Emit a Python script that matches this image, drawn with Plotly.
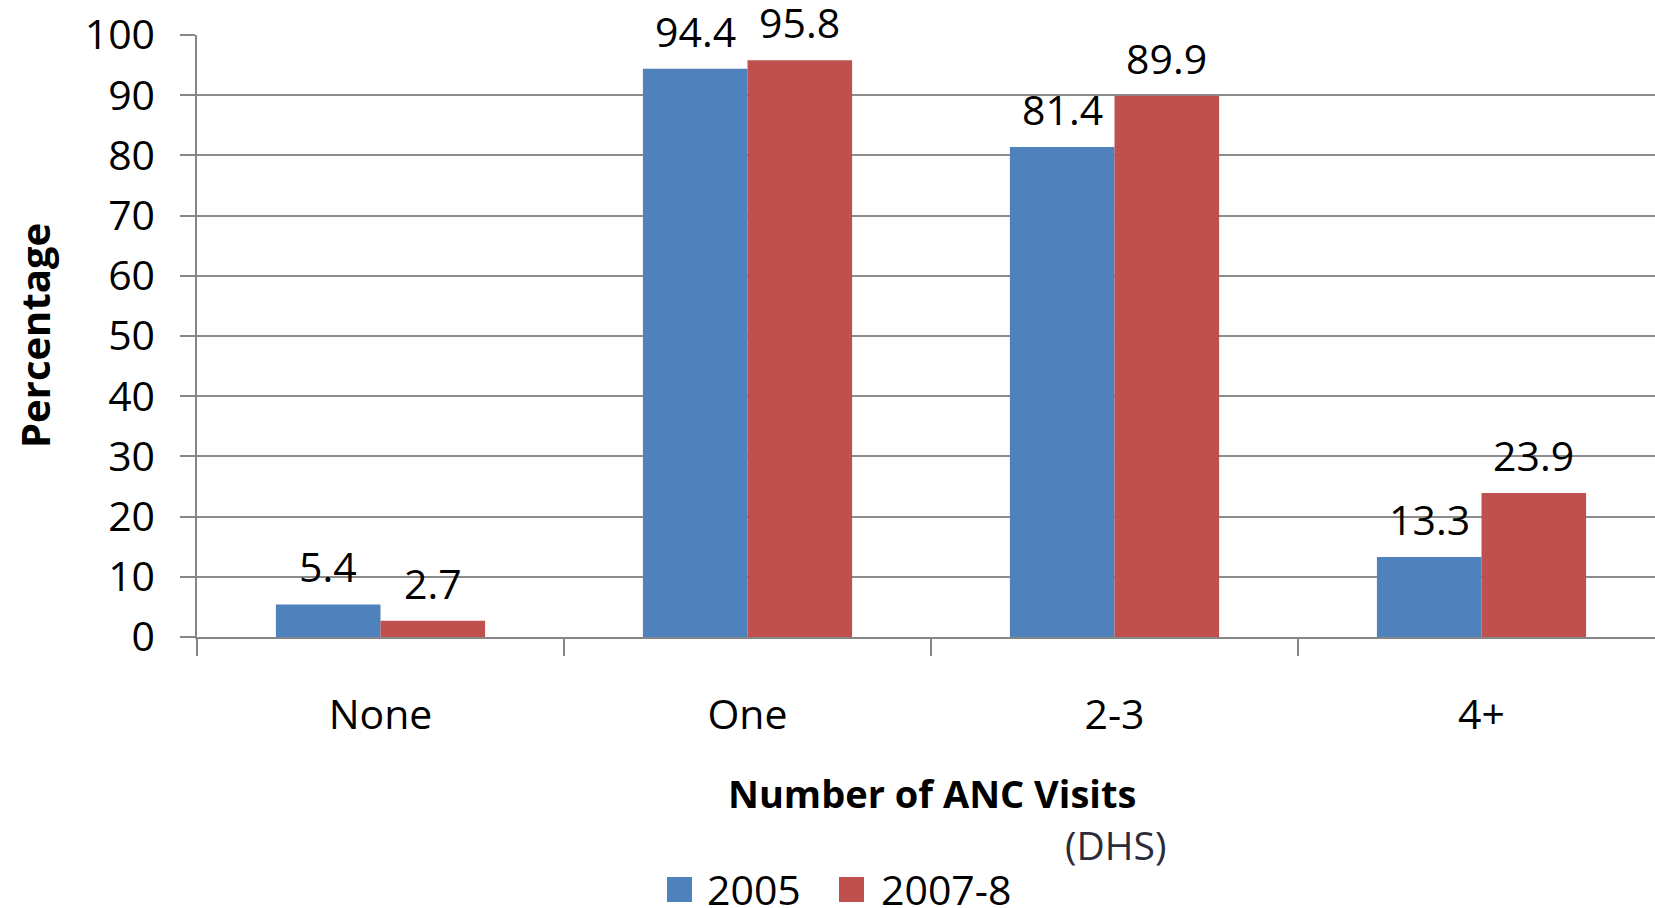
import plotly.graph_objects as go

# ANC visit categories and survey percentages
categories = ["None", "One", "2-3", "4+"]
series_names = ["2005", "2007-8"]
values_2005 = [5.4, 94.4, 81.4, 13.3]
values_2007_8 = [2.7, 95.8, 89.9, 23.9]
y_ticks = [0, 10, 20, 30, 40, 50, 60, 70, 80, 90, 100]

colors = ["#4F81BD", "#C0504D"]
font_family = "Open Sans, Liberation Sans, sans-serif"
fs = 41

W, H = 1655, 908
ML, MR, MT, MB = 197, 0, 35, 271
PW, PH = W - ML - MR, H - MT - MB
CAT_PX = 367.0
BARGAP = 0.43
BAR_PX = CAT_PX * (1 - BARGAP) / 2


def px_to_paper(px, py):
    return (px - ML) / PW, (H - MB - py) / PH


fig = go.Figure()
series = [values_2005, values_2007_8]
for name, vals, col in zip(series_names, series, colors):
    fig.add_trace(go.Bar(
        x=categories, y=vals, name=name, marker_color=col,
        marker_line_width=0, showlegend=False,
    ))

annotations = []
# value labels above each bar
for i, vals in enumerate(series):
    shift = (-0.5 + i) * BAR_PX
    for c, v in zip(categories, vals):
        annotations.append(dict(
            x=c, y=v, xref="x", yref="y", text=f"{v:.1f}", showarrow=False,
            xshift=shift, yshift=38, yanchor="middle", xanchor="center",
            font=dict(size=fs, color="#000000", family=font_family),
        ))

# axis titles and source note
px, py = px_to_paper(34, 336)
annotations.append(dict(x=px, y=py, xref="paper", yref="paper", text="<b>Percentage</b>",
                        textangle=-90, showarrow=False, xanchor="center", yanchor="middle",
                        font=dict(size=fs - 1, color="#000000", family=font_family)))
px, py = px_to_paper(932, 793)
annotations.append(dict(x=px, y=py, xref="paper", yref="paper", text="<b>Number of ANC Visits</b>",
                        showarrow=False, xanchor="center", yanchor="middle",
                        font=dict(size=fs - 3, color="#000000", family=font_family)))
px, py = px_to_paper(1115, 844)
annotations.append(dict(x=px, y=py, xref="paper", yref="paper", text="(DHS)",
                        showarrow=False, xanchor="center", yanchor="middle",
                        font=dict(size=fs - 2, color="#2b2b3b", family=font_family)))

# legend drawn as swatches with labels
shapes = []
legend_items = [(667, 705), (839, 879)]
for (sx, tx), name, col in zip(legend_items, series_names, colors):
    x0, y0 = px_to_paper(sx, 902)
    x1, y1 = px_to_paper(sx + 25, 877)
    shapes.append(dict(type="rect", xref="paper", yref="paper", x0=x0, x1=x1, y0=y0, y1=y1,
                       fillcolor=col, line=dict(width=0)))
    lx, ly = px_to_paper(tx, 889)
    annotations.append(dict(x=lx, y=ly, xref="paper", yref="paper", text=name, showarrow=False,
                            xanchor="left", yanchor="middle",
                            font=dict(size=fs, color="#000000", family=font_family)))

x_end = -0.5 + PW / CAT_PX

fig.update_layout(
    width=W, height=H,
    margin=dict(l=ML, r=MR, t=MT, b=MB, autoexpand=False),
    paper_bgcolor="white", plot_bgcolor="white",
    barmode="group", bargap=BARGAP, bargroupgap=0,
    font=dict(family=font_family, size=fs, color="#000000"),
    annotations=annotations, shapes=shapes,
    showlegend=False,
)
fig.update_xaxes(
    type="category", range=[-0.5, x_end], tickson="boundaries",
    ticks="outside", ticklen=17, tickwidth=1.5, tickcolor="#868686",
    showline=True, linecolor="#868686", linewidth=1.5,
    showgrid=False, tickfont=dict(size=fs), ticklabelstandoff=41,
)
fig.update_yaxes(
    range=[0, 100], tickvals=y_ticks,
    ticks="outside", ticklen=15, tickwidth=1.5, tickcolor="#868686",
    showline=True, linecolor="#868686", linewidth=1.5,
    showgrid=True, gridcolor="#8c8c8c", gridwidth=1.5,
    zeroline=False, tickfont=dict(size=fs), ticklabelstandoff=17,
)

fig.write_html("out.html")
